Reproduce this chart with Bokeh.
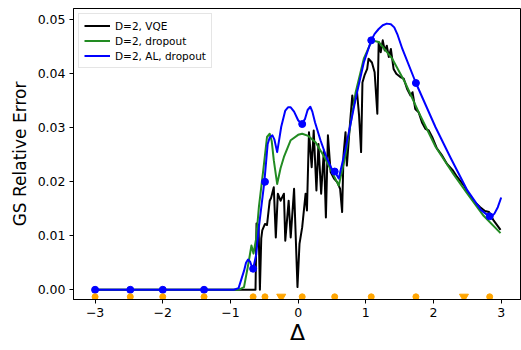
from bokeh.plotting import figure
from bokeh.models import FixedTicker, PrintfTickFormatter, Range1d, Legend, LegendItem
from bokeh.embed import file_html
from bokeh.resources import INLINE

# ---- data ----
vqe_x = [-3.0, -0.63, -0.615, -0.585, -0.565, -0.545, -0.53, -0.49, -0.46, -0.42, -0.40, -0.36,
         -0.33, -0.30, -0.26, -0.21, -0.19, -0.14, -0.11, -0.06, -0.01, 0.02, 0.06, 0.11, 0.13,
         0.16, 0.20, 0.23, 0.27, 0.30, 0.34, 0.38, 0.41, 0.44, 0.48, 0.53, 0.58, 0.62, 0.65,
         0.67, 0.70, 0.72, 0.76, 0.80, 0.82, 0.87, 0.90, 0.93, 0.95, 0.98, 1.02, 1.04, 1.09,
         1.13, 1.17, 1.19, 1.22, 1.25, 1.28, 1.31, 1.34, 1.37, 1.41, 1.45, 1.51, 1.56, 1.61,
         1.66, 1.69, 1.73, 1.78, 1.83, 1.88, 1.93, 1.98, 2.05, 2.12, 2.20, 2.28, 2.35, 2.45,
         2.52, 2.59, 2.69, 2.76, 2.82, 2.86, 2.89, 2.95, 2.99]
vqe_y = [0.0, 0.0, 0.0123, 0.0120, 0.0, 0.0095, 0.0110, 0.0122, 0.0120, 0.0165, 0.0170, 0.0190,
         0.0097, 0.0178, 0.0165, 0.0178, 0.0091, 0.0165, 0.0097, 0.0187, 0.0005, 0.0085, 0.0116,
         0.0178, 0.0147, 0.0292, 0.0227, 0.0295, 0.0184, 0.0270, 0.0178, 0.0258, 0.0134, 0.0286,
         0.0218, 0.0206, 0.0199, 0.0187, 0.0144, 0.0249, 0.0292, 0.0230, 0.0298, 0.0360, 0.0341,
         0.0366, 0.0323, 0.0255, 0.0384, 0.0397, 0.0409, 0.0428, 0.0421, 0.0403, 0.0326, 0.0459,
         0.0440, 0.0462, 0.0443, 0.0452, 0.0431, 0.0446, 0.0409, 0.0400, 0.0394, 0.0391, 0.0372,
         0.0360, 0.0366, 0.0335, 0.0329, 0.0310, 0.0298, 0.0295, 0.0283, 0.0262, 0.0250, 0.0233,
         0.0222, 0.0209, 0.0193, 0.0178, 0.0165, 0.0153, 0.0146, 0.0144, 0.0135, 0.0128, 0.0118,
         0.0111]

dropout_x = [-3.0, -0.88, -0.80, -0.74, -0.69, -0.66, -0.62, -0.58, -0.51, -0.46, -0.42, -0.39,
             -0.36, -0.31, -0.26, -0.21, -0.11, 0.0, 0.06, 0.15, 0.26, 0.40, 0.50, 0.60, 0.70,
             0.85, 0.97, 1.09, 1.19, 1.39, 1.58, 1.78, 2.03, 2.30, 2.50, 2.74, 2.99]
dropout_y = [0.0, 0.0, 0.0005, 0.0045, 0.0082, 0.0067, 0.0095, 0.0153, 0.0227, 0.0283, 0.0289,
             0.0275, 0.0240, 0.0196, 0.0225, 0.0246, 0.0277, 0.0287, 0.0289, 0.0285, 0.0273,
             0.0243, 0.0218, 0.0193, 0.0249, 0.0366, 0.0428, 0.0462, 0.0459, 0.0428, 0.0384,
             0.0329, 0.0265, 0.0213, 0.0178, 0.0137, 0.0105]

al_x = [-3.0, -0.95, -0.88, -0.80, -0.77, -0.74, -0.71, -0.69, -0.665, -0.62, -0.58, -0.50,
        -0.45, -0.42, -0.38, -0.35, -0.31, -0.28, -0.25, -0.19, -0.15, -0.11, -0.06, 0.0,
        0.05, 0.10, 0.14, 0.18, 0.21, 0.25, 0.33, 0.42, 0.51, 0.54, 0.60, 0.70, 0.85, 0.97,
        1.08, 1.13, 1.19, 1.25, 1.31, 1.37, 1.42, 1.47, 1.54, 1.74, 2.03, 2.25, 2.50, 2.70,
        2.82, 2.86, 2.90, 2.95, 3.0]
al_y = [0.0, 0.0, 0.0003, 0.0035, 0.0050, 0.0056, 0.0052, 0.0045, 0.0039, 0.0065, 0.0116,
        0.0199, 0.0270, 0.0282, 0.0286, 0.0278, 0.0255, 0.0278, 0.0302, 0.0332, 0.0338, 0.0338,
        0.0330, 0.0314, 0.0307, 0.0316, 0.0333, 0.0339, 0.0330, 0.0310, 0.0277, 0.0245, 0.0220,
        0.0219, 0.0206, 0.0261, 0.0354, 0.0421, 0.0462, 0.0474, 0.0483, 0.0490, 0.0493, 0.0492,
        0.0486, 0.0472, 0.0446, 0.0383, 0.0301, 0.0245, 0.0184, 0.0148, 0.0136, 0.0136, 0.0141,
        0.0153, 0.0171]

train_x = [-3.0, -2.48, -2.0, -1.39, -0.665, -0.49, 0.06, 0.54, 1.08, 1.74, 2.83]
train_al_y = [0.0, 0.0, 0.0, 0.0, 0.0039, 0.0200, 0.0307, 0.0219, 0.0462, 0.0383, 0.0136]
added_x = [-0.25, 2.45]
marker_level = -0.0013

legend_labels = ["D=2, VQE", "D=2, dropout", "D=2, AL, dropout"]
x_ticks = [-3, -2, -1, 0, 1, 2, 3]
y_ticks = [0.0, 0.01, 0.02, 0.03, 0.04, 0.05]

FONT = "DejaVu Sans"

p = figure(width=521, height=350, output_backend="svg", toolbar_location=None,
           x_range=Range1d(-3.319, 3.300), y_range=Range1d(-0.0018, 0.0521),
           min_border_left=73, min_border_right=0, min_border_top=8, min_border_bottom=51)
p.background_fill_color = "white"
p.border_fill_color = "white"
p.outline_line_color = "black"
p.outline_line_width = 1
p.xgrid.visible = False
p.ygrid.visible = False

r_vqe = p.line(vqe_x, vqe_y, line_color="black", line_width=2, line_join="round")
r_drop = p.line(dropout_x, dropout_y, line_color="#228b22", line_width=2, line_join="round")
r_al = p.line(al_x, al_y, line_color="#0000ff", line_width=2, line_join="round")
p.scatter(train_x, train_al_y, marker="circle", size=7, fill_color="#0000ff", line_color="#0000ff")
p.scatter(train_x, [marker_level] * len(train_x), marker="circle", size=6,
          fill_color="orange", line_color="orange")
p.scatter(added_x, [marker_level] * len(added_x), marker="inverted_triangle", size=9,
          fill_color="orange", line_color="orange")

legend = Legend(items=[LegendItem(label=legend_labels[0], renderers=[r_vqe]),
                       LegendItem(label=legend_labels[1], renderers=[r_drop]),
                       LegendItem(label=legend_labels[2], renderers=[r_al])],
                location="top_left")
legend.label_text_font = FONT
legend.label_text_font_size = "10.5px"
legend.label_text_color = "black"
legend.label_height = 13
legend.glyph_height = 13
legend.glyph_width = 26
legend.spacing = 2
legend.padding = 5
legend.margin = 5
legend.border_line_color = "#cccccc"
legend.border_line_width = 1
legend.background_fill_alpha = 0.8
p.add_layout(legend)

for ax in (p.xaxis, p.yaxis):
    ax.axis_line_color = "black"
    ax.major_tick_line_color = "black"
    ax.major_tick_out = 4
    ax.major_tick_in = 0
    ax.minor_tick_line_color = None
    ax.major_label_text_font = FONT
    ax.major_label_text_font_size = "12.5px"
    ax.major_label_text_color = "black"
    ax.major_label_standoff = 4
    ax.axis_label_text_color = "black"

p.xaxis.ticker = FixedTicker(ticks=x_ticks)
p.xaxis.major_label_overrides = {t: (("\u2212" + str(abs(t))) if t < 0 else str(t)) for t in x_ticks}
p.xaxis.axis_label = "\u0394"
p.xaxis.axis_label_text_font = FONT
p.xaxis.axis_label_text_font_size = "22px"
p.xaxis.axis_label_text_font_style = "normal"
p.xaxis.axis_label_standoff = 0
p.yaxis.ticker = FixedTicker(ticks=y_ticks)
p.yaxis.formatter = PrintfTickFormatter(format="%.2f")
p.yaxis.axis_label = "GS Relative Error"
p.yaxis.axis_label_text_font = FONT
p.yaxis.axis_label_text_font_size = "17px"
p.yaxis.axis_label_text_font_style = "normal"
p.yaxis.axis_label_standoff = 5

open("out.html", "w").write(file_html(p, INLINE))
